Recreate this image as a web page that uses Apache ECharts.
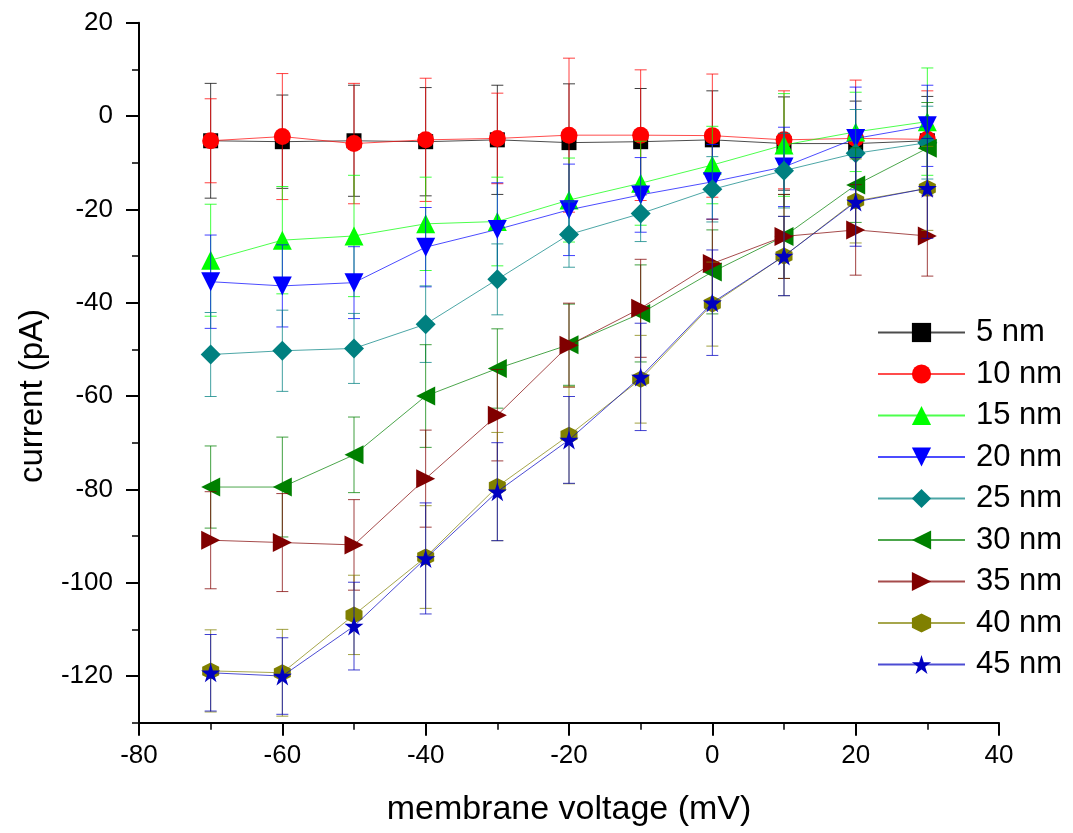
<!DOCTYPE html>
<html>
<head>
<meta charset="utf-8">
<script src="https://cdn.jsdelivr.net/npm/echarts@6/dist/echarts.min.js"></script>
<style>
html,body{margin:0;padding:0;background:#fff;}
#chart{width:1073px;height:833px;}
</style>
</head>
<body>
<div id="chart"></div>
<script>
// ---- data ----
const voltages = [-70, -60, -50, -40, -30, -20, -10, 0, 10, 20, 30];
const seriesNames = ['5 nm', '10 nm', '15 nm', '20 nm', '25 nm', '30 nm', '35 nm', '40 nm', '45 nm'];

const mean5  = [-5.3, -5.5, -5.3, -5.5, -5.1, -5.7, -5.5, -5.1, -5.9, -5.9, -5.3];
const err5   = [12.3, 10.0, 11.9, 11.6, 11.7, 12.6, 11.4, 10.5, 10.0, 9.1, 9.5];
const mean10 = [-5.3, -4.4, -5.9, -5.1, -4.8, -4.1, -4.1, -4.2, -5.1, -4.8, -5.0];
const err10  = [9.0, 13.5, 12.9, 13.2, 9.7, 16.5, 14.0, 13.2, 10.5, 12.5, 10.4];
const mean15 = [-30.9, -26.6, -25.7, -23.1, -22.6, -18.0, -14.4, -10.5, -6.2, -3.4, -1.2];
const err15  = [12.0, 11.5, 13.0, 10.0, 9.5, 9.0, 9.0, 8.3, 11.0, 8.5, 11.5];
const mean20 = [-35.5, -36.4, -35.7, -28.1, -24.3, -20.1, -16.9, -14.1, -10.9, -4.8, -2.1];
const err20  = [10.0, 8.8, 7.7, 8.5, 10.0, 9.8, 8.0, 8.0, 8.5, 11.0, 8.7];
const mean25 = [-51.1, -50.3, -49.8, -44.6, -35.0, -25.4, -20.9, -15.7, -11.7, -8.0, -5.7];
const err25  = [9.0, 8.7, 7.5, 8.2, 7.6, 7.0, 6.0, 7.0, 8.0, 9.4, 7.8];
const mean30 = [-79.5, -79.5, -72.6, -60.0, -54.1, -49.0, -42.3, -33.4, -25.8, -14.8, -6.9];
const err30  = [8.8, 10.7, 8.1, 11.0, 8.5, 8.7, 10.4, 9.0, 9.0, 8.0, 9.8];
const mean35 = [-90.9, -91.4, -91.9, -77.7, -64.1, -49.1, -41.2, -31.6, -25.8, -24.4, -25.7];
const err35  = [10.4, 10.5, 9.7, 10.4, 9.8, 9.0, 10.5, 9.5, 9.0, 9.7, 8.6];
const mean40 = [-118.9, -119.3, -106.9, -94.5, -79.4, -68.4, -56.4, -40.3, -30.0, -18.2, -15.5];
const err40  = [8.8, 9.3, 8.5, 11.0, 11.6, 10.4, 9.4, 9.0, 8.5, 9.0, 9.0];
const mean45 = [-119.3, -120.0, -109.3, -94.8, -80.5, -69.4, -55.9, -40.0, -30.0, -18.4, -15.5];
const err45  = [8.2, 8.2, 9.4, 11.9, 10.5, 9.3, 11.5, 11.3, 8.5, 9.5, 10.7];

const xTicks = [-80, -60, -40, -20, 0, 20, 40];
const yTicks = [-120, -100, -80, -60, -40, -20, 0, 20];

// ---- styles ----
const means = [mean5, mean10, mean15, mean20, mean25, mean30, mean35, mean40, mean45];
const errs  = [err5, err10, err15, err20, err25, err30, err35, err40, err45];
const colors = ['#000000', '#ff0000', '#00ff00', '#0000ff', '#008080', '#008000', '#800000', '#808000', '#0000c0'];
const HEX = 'path://M0,-1 L0.866,-0.5 L0.866,0.5 L0,1 L-0.866,0.5 L-0.866,-0.5 Z';
const STAR = 'path://M0,-1 L0.2245,-0.309 L0.951,-0.309 L0.363,0.118 L0.588,0.809 L0,0.382 L-0.588,0.809 L-0.363,0.118 L-0.951,-0.309 L-0.2245,-0.309 Z';
const symbols = ['rect', 'circle', 'triangle', 'triangle', 'diamond', 'triangle', 'triangle', HEX, STAR];
const rotates = [0, 0, 0, 180, 0, 90, -90, 0, 0];
const sizes = [15, 17, 19, 19, 20, 19, 19, 17, 19];
const FONT = '"Liberation Sans", Arial, sans-serif';

const chart = echarts.init(document.getElementById('chart'), null, {renderer: 'canvas'});

function errRenderer(color) {
  return function (params, api) {
    const x = api.value(0);
    const p1 = api.coord([x, api.value(1)]);
    const p2 = api.coord([x, api.value(2)]);
    const hw = 6;
    const st = {stroke: color, lineWidth: 1, opacity: 0.75};
    return {
      type: 'group',
      children: [
        {type: 'line', shape: {x1: p1[0], y1: p1[1], x2: p2[0], y2: p2[1]}, style: st},
        {type: 'line', shape: {x1: p1[0] - hw, y1: p1[1], x2: p1[0] + hw, y2: p1[1]}, style: st},
        {type: 'line', shape: {x1: p2[0] - hw, y1: p2[1], x2: p2[0] + hw, y2: p2[1]}, style: st}
      ]
    };
  };
}

const series = [];
seriesNames.forEach((name, i) => {
  series.push({
    type: 'custom',
    name: name + ' err',
    xAxisIndex: 0, yAxisIndex: 0,
    renderItem: errRenderer(colors[i]),
    data: voltages.map((v, k) => [v, means[i][k] - errs[i][k], means[i][k] + errs[i][k]]),
    z: 2 + i * 2,
    silent: true
  });
});
seriesNames.forEach((name, i) => {
  series.push({
    type: 'line',
    name: name,
    xAxisIndex: 0, yAxisIndex: 0,
    data: voltages.map((v, k) => [v, means[i][k]]),
    symbol: symbols[i],
    symbolSize: sizes[i],
    symbolRotate: rotates[i],
    showAllSymbol: true,
    lineStyle: {color: colors[i], width: 1, opacity: 0.7},
    itemStyle: {color: colors[i], opacity: 1},
    z: 3 + i * 2,
    silent: true
  });
});

const option = {
  animation: false,
  backgroundColor: '#ffffff',
  grid: [
    {left: 139, right: 74, top: 22.7, bottom: 110.3},
    {left: 139, right: 74, top: 22.7, height: 653.3},
    {left: 139, right: 74, top: 22.7, height: 746.6}
  ],
  xAxis: [
    {
      type: 'value', gridIndex: 0, min: xTicks[0], max: xTicks[xTicks.length - 1], interval: 20,
      axisLine: {show: true, onZero: false, lineStyle: {color: '#000', width: 2}},
      axisTick: {show: true, length: 13, lineStyle: {color: '#000', width: 2}},
      minorTick: {show: true, splitNumber: 2, length: 7, lineStyle: {color: '#000', width: 1.5}},
      axisLabel: {fontSize: 26, color: '#000', fontFamily: FONT, margin: 20},
      splitLine: {show: false},
      name: 'membrane voltage (mV)', nameLocation: 'middle', nameGap: 70,
      nameTextStyle: {fontSize: 34, color: '#000', fontFamily: FONT}
    },
    {type: 'value', gridIndex: 1, min: -80, max: 40, show: false},
    {type: 'value', gridIndex: 2, min: -80, max: 40, show: false}
  ],
  yAxis: [
    {
      type: 'value', gridIndex: 0, min: -130, max: 20, interval: 10,
      axisLine: {show: true, onZero: false, lineStyle: {color: '#000', width: 2}},
      axisTick: {show: true, length: 7, lineStyle: {color: '#000', width: 1.5}},
      axisLabel: {show: false},
      splitLine: {show: false}
    },
    {
      type: 'value', gridIndex: 1, min: yTicks[0], max: yTicks[yTicks.length - 1], interval: 20,
      axisLine: {show: false, onZero: false},
      axisTick: {show: true, length: 13, lineStyle: {color: '#000', width: 2}},
      axisLabel: {fontSize: 26, color: '#000', fontFamily: FONT, margin: 26},
      splitLine: {show: false}
    },
    {
      type: 'value', gridIndex: 2, min: 0, max: 1,
      axisLine: {show: false}, axisTick: {show: false}, axisLabel: {show: false}, splitLine: {show: false},
      name: 'current (pA)', nameLocation: 'middle', nameGap: 90, nameRotate: 90,
      nameTextStyle: {fontSize: 33, color: '#000', fontFamily: FONT}
    }
  ],
  legend: {
    orient: 'vertical',
    left: 877, top: 317,
    itemWidth: 87, itemHeight: 24, itemGap: 10.5,
    padding: 0,
    data: seriesNames,
    textStyle: {fontSize: 31, color: '#000', fontFamily: FONT, lineHeight: 31, padding: [0, 0, 0, 6]},
    selectedMode: false
  },
  series: series
};
chart.setOption(option);
</script>
</body>
</html>
